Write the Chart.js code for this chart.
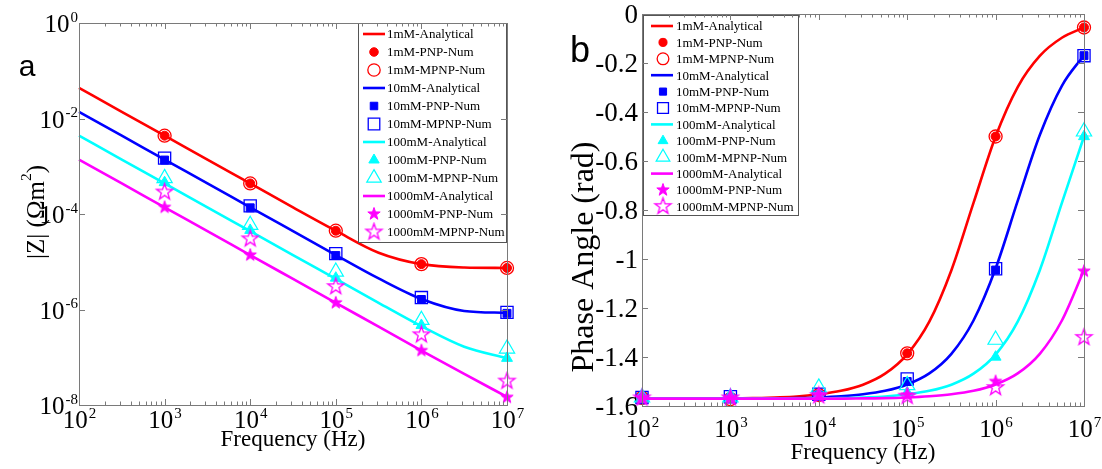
<!DOCTYPE html>
<html>
<head>
<meta charset="utf-8">
<script src="https://cdn.jsdelivr.net/npm/chart.js@4.4.1/dist/chart.umd.min.js"></script>
<style>
  html, body { margin: 0; padding: 0; background: #fff; }
  #wrap { position: relative; width: 1102px; height: 469px; overflow: hidden; }
  .panel { position: absolute; top: 0; }
  #panelA { left: 0; }
  #panelB { left: 550px; }
</style>
</head>
<body>
<div id="wrap">
  <div class="panel" id="panelA"><canvas id="chartA" width="550" height="469"></canvas></div>
  <div class="panel" id="panelB"><canvas id="chartB" width="552" height="469"></canvas></div>
</div>
<script>
// ---- data ----
// panel a: |Z| given as log10 values
const freqLineA = [1e2, 316.2, 1e3, 3162, 1e4, 31623, 1e5, 316228, 1e6, 3162278, 1e7];
const redLineA = [-1.36, -1.86, -2.36, -2.86, -3.36, -3.86, -4.35, -4.81, -5.05, -5.12, -5.13];
const blueLineA = [-1.86, -2.36, -2.86, -3.36, -3.86, -4.36, -4.86, -5.35, -5.78, -6.03, -6.07];
const cyanLineA = [-2.36, -2.86, -3.36, -3.86, -4.36, -4.86, -5.36, -5.86, -6.35, -6.78, -7.02];
const magentaLineA = [-2.86, -3.36, -3.86, -4.36, -4.86, -5.36, -5.86, -6.36, -6.86, -7.35, -7.83];

const freqMarkA = [1e3, 1e4, 1e5, 1e6, 1e7];
const redPnpA = [-2.36, -3.36, -4.35, -5.05, -5.13];
const redMpnpA = [-2.36, -3.36, -4.35, -5.05, -5.13];
const bluePnpA = [-2.87, -3.87, -4.87, -5.79, -6.08];
const blueMpnpA = [-2.83, -3.83, -4.83, -5.75, -6.06];
const cyanPnpA = [-3.34, -4.34, -5.34, -6.33, -7.02];
const cyanMpnpA = [-3.25, -4.23, -5.21, -6.22, -6.82];
const magentaPnpA = [-3.86, -4.86, -5.86, -6.86, -7.84];
const magentaMpnpA = [-3.54, -4.52, -5.52, -6.53, -7.50];

// panel b: phase angle (rad)
const freqLineB = [1e2, 177.8, 316.2, 562.3, 1e3, 1778, 3162, 5623, 1e4, 17783, 31623, 56234,
  1e5, 177828, 316228, 562341, 1e6, 1778279, 3162278, 5623413, 1e7];
const redLineB = [-1.570, -1.570, -1.570, -1.570, -1.569, -1.568, -1.565, -1.561, -1.552, -1.538,
  -1.513, -1.468, -1.389, -1.256, -1.046, -0.771, -0.500, -0.298, -0.171, -0.097, -0.055];
const blueLineB = [-1.570, -1.570, -1.570, -1.570, -1.570, -1.570, -1.569, -1.568, -1.565, -1.560,
  -1.552, -1.538, -1.512, -1.467, -1.387, -1.251, -1.039, -0.763, -0.494, -0.293, -0.168];
const cyanLineB = [-1.570, -1.570, -1.570, -1.570, -1.570, -1.570, -1.570, -1.570, -1.569, -1.568,
  -1.565, -1.561, -1.552, -1.538, -1.513, -1.468, -1.390, -1.256, -1.046, -0.771, -0.500];
const magentaLineB = [-1.570, -1.570, -1.570, -1.570, -1.570, -1.570, -1.570, -1.570, -1.570, -1.570,
  -1.569, -1.568, -1.565, -1.560, -1.552, -1.538, -1.512, -1.467, -1.387, -1.251, -1.045];

const freqMarkB = [1e2, 1e3, 1e4, 1e5, 1e6, 1e7];
const redPnpB = [-1.567, -1.567, -1.555, -1.385, -0.500, -0.055];
const redMpnpB = [-1.567, -1.572, -1.555, -1.385, -0.500, -0.055];
const bluePnpB = [-1.567, -1.567, -1.555, -1.500, -1.045, -0.170];
const blueMpnpB = [-1.565, -1.562, -1.552, -1.490, -1.040, -0.170];
const cyanPnpB = [-1.567, -1.567, -1.555, -1.545, -1.400, -0.500];
const cyanMpnpB = [-1.565, -1.565, -1.525, -1.515, -1.330, -0.480];
const magentaPnpB = [-1.567, -1.567, -1.555, -1.555, -1.500, -1.050];
const magentaMpnpB = [-1.567, -1.567, -1.558, -1.560, -1.525, -1.320];

const legendLabels = [
  "1mM-Analytical", "1mM-PNP-Num", "1mM-MPNP-Num",
  "10mM-Analytical", "10mM-PNP-Num", "10mM-MPNP-Num",
  "100mM-Analytical", "100mM-PNP-Num", "100mM-MPNP-Num",
  "1000mM-Analytical", "1000mM-PNP-Num", "1000mM-MPNP-Num"
];

// tick labels
const xTickExp = [2, 3, 4, 5, 6, 7];
const yTickExpA = [0, -2, -4, -6, -8];
const yTickValsB = [0, -0.2, -0.4, -0.6, -0.8, -1, -1.2, -1.4, -1.6];
const yTickLabelsB = ["0", "-0.2", "-0.4", "-0.6", "-0.8", "-1", "-1.2", "-1.4", "-1.6"];

// ---- styles ----
const RED = "#ff0000", BLUE = "#0000ff", CYAN = "#00ffff", MAGENTA = "#ff00ff";
const AXIS = "#7a7a7a";
const SERIF = "'Liberation Serif', 'Times New Roman', serif";
const SANS = "'Liberation Sans', Arial, sans-serif";

function starImage(color, r, filled, lw) {
  const c = document.createElement("canvas");
  const s = Math.ceil(2 * r + lw + 2);
  c.width = s; c.height = s;
  const g = c.getContext("2d");
  g.beginPath();
  for (let k = 0; k < 10; k++) {
    const rr = k % 2 === 0 ? r : r * 0.4;
    const ang = -Math.PI / 2 + k * Math.PI / 5;
    g.lineTo(s / 2 + rr * Math.cos(ang), s / 2 + rr * Math.sin(ang));
  }
  g.closePath();
  if (filled) { g.fillStyle = color; g.fill(); }
  g.strokeStyle = color; g.lineWidth = lw; g.lineJoin = "miter"; g.stroke();
  return c;
}

const toZ = (e) => Math.pow(10, e);

function pts(xs, ys, conv) {
  return xs.map((x, i) => ({ x: x, y: conv ? conv(ys[i]) : ys[i] }));
}

function lineDs(label, color, xs, ys, conv) {
  return {
    label: label, data: pts(xs, ys, conv), showLine: true,
    borderColor: color, borderWidth: 2.6, pointRadius: 0,
    cubicInterpolationMode: "monotone", clip: false
  };
}

function markDs(label, xs, ys, conv, style, radius, fill, stroke, bw) {
  return {
    label: label, data: pts(xs, ys, conv), showLine: false,
    pointStyle: style, pointRadius: radius, pointHoverRadius: radius,
    pointBackgroundColor: fill, pointBorderColor: stroke, pointBorderWidth: bw,
    clip: false
  };
}

const NONE = "rgba(0,0,0,0)";
const starFilled = starImage(MAGENTA, 6.5, true, 1);
const starHollow = starImage(MAGENTA, 8.5, false, 1.3);

function buildSets(fl, lines, fm, marks, conv) {
  const sets = [
    lineDs(legendLabels[0], RED, fl, lines[0], conv),
    markDs(legendLabels[1], fm, marks[0], conv, "circle", 4.5, RED, RED, 1),
    markDs(legendLabels[2], fm, marks[1], conv, "circle", 6.5, NONE, RED, 1.3),
    lineDs(legendLabels[3], BLUE, fl, lines[1], conv),
    markDs(legendLabels[4], fm, marks[2], conv, "rect", 5.6, BLUE, BLUE, 1),
    markDs(legendLabels[5], fm, marks[3], conv, "rect", 8.6, NONE, BLUE, 1.3),
    lineDs(legendLabels[6], CYAN, fl, lines[2], conv),
    markDs(legendLabels[7], fm, marks[4], conv, "triangle", 6.3, CYAN, CYAN, 1),
    markDs(legendLabels[8], fm, marks[5], conv, "triangle", 8.8, NONE, CYAN, 1.2),
    lineDs(legendLabels[9], MAGENTA, fl, lines[3], conv),
    markDs(legendLabels[10], fm, marks[6], conv, starFilled, 6.5, MAGENTA, MAGENTA, 1),
    markDs(legendLabels[11], fm, marks[7], conv, starHollow, 8.5, NONE, MAGENTA, 1.3)
  ];
  // later entries drawn on top, as in the original
  sets.forEach((s, i) => { s.order = -i; });
  return sets;
}

// ---- drawing helpers ----
function drawPow(ctx, x, y, exp, size, supSize, align) {
  const base = "10", sup = String(exp);
  ctx.font = size + "px " + SERIF;
  const wb = ctx.measureText(base).width;
  ctx.font = supSize + "px " + SERIF;
  const ws = ctx.measureText(sup).width;
  let x0 = align === "right" ? x - wb - ws : x - (wb + ws) / 2;
  ctx.textAlign = "left";
  ctx.textBaseline = "alphabetic";
  ctx.fillStyle = "#000";
  ctx.font = size + "px " + SERIF;
  ctx.fillText(base, x0, y);
  ctx.font = supSize + "px " + SERIF;
  ctx.fillText(sup, x0 + wb + 1, y - size * 0.42);
}

function drawLegend(chart, L) {
  const ctx = chart.ctx;
  ctx.save();
  ctx.fillStyle = "#fff";
  ctx.fillRect(L.x0, L.y0, L.x1 - L.x0, L.y1 - L.y0);
  ctx.strokeStyle = "#555";
  ctx.lineWidth = 1;
  ctx.strokeRect(L.x0 + 0.5, L.y0 + 0.5, L.x1 - L.x0, L.y1 - L.y0);
  chart.data.datasets.forEach((ds, i) => {
    const y = L.row0 + i * L.step;
    if (ds.showLine) {
      ctx.strokeStyle = ds.borderColor;
      ctx.lineWidth = ds.borderWidth;
      ctx.beginPath();
      ctx.moveTo(L.lx0, y); ctx.lineTo(L.lx1, y);
      ctx.stroke();
    } else {
      ctx.fillStyle = ds.pointBackgroundColor;
      ctx.strokeStyle = ds.pointBorderColor;
      ctx.lineWidth = ds.pointBorderWidth;
      Chart.helpers.drawPoint(ctx, {
        pointStyle: ds.pointStyle, radius: ds.pointRadius * L.scale,
        rotation: 0, borderWidth: ds.pointBorderWidth
      }, L.mx, y);
    }
    ctx.fillStyle = "#000";
    ctx.font = L.font + "px " + SERIF;
    ctx.textAlign = "left";
    ctx.textBaseline = "middle";
    ctx.fillText(ds.label, L.tx, y + 1);
  });
  ctx.restore();
}

function minorTicks() {
  const out = [];
  for (let d = 2; d < 7; d++) for (let k = 2; k <= 9; k++) out.push(k * Math.pow(10, d));
  return out;
}

const decor = {
  id: "decor",
  afterDatasetsDraw(chart, args, o) {
    const ctx = chart.ctx, a = chart.chartArea;
    const xs = chart.scales.x, ys = chart.scales.y;
    ctx.save();
    drawLegend(chart, o.legend);

    // frame
    ctx.strokeStyle = AXIS;
    ctx.lineWidth = 1;
    ctx.strokeRect(Math.round(a.left) + 0.5, Math.round(a.top) + 0.5,
      Math.round(a.right - a.left), Math.round(a.bottom - a.top));

    // x ticks, bottom and top
    ctx.beginPath();
    xTickExp.forEach((e) => {
      const px = Math.round(xs.getPixelForValue(Math.pow(10, e))) + 0.5;
      ctx.moveTo(px, a.bottom); ctx.lineTo(px, a.bottom - 6);
      ctx.moveTo(px, a.top); ctx.lineTo(px, a.top + 6);
    });
    minorTicks().forEach((v) => {
      const px = Math.round(xs.getPixelForValue(v)) + 0.5;
      ctx.moveTo(px, a.bottom); ctx.lineTo(px, a.bottom - 3.5);
      ctx.moveTo(px, a.top); ctx.lineTo(px, a.top + 3.5);
    });
    // y ticks, left and right
    o.yTicks.forEach((v) => {
      const py = Math.round(ys.getPixelForValue(v)) + 0.5;
      ctx.moveTo(a.left, py); ctx.lineTo(a.left + 6, py);
      ctx.moveTo(a.right, py); ctx.lineTo(a.right - 6, py);
    });
    ctx.stroke();

    // x tick labels
    xTickExp.forEach((e) => {
      const px = xs.getPixelForValue(Math.pow(10, e));
      drawPow(ctx, px, a.bottom + o.xLabelDy, e, o.tickSize, o.supSize, "center");
    });
    // y tick labels
    o.yTicks.forEach((v, i) => {
      const py = ys.getPixelForValue(v);
      if (o.yLog) {
        drawPow(ctx, a.left - 2, py + 9, yTickExpA[i], o.tickSize, o.supSize, "right");
      } else {
        ctx.fillStyle = "#000";
        ctx.font = o.yTickSize + "px " + SERIF;
        ctx.textAlign = "right";
        ctx.textBaseline = "middle";
        ctx.fillText(yTickLabelsB[i], a.left - 4, py + 2);
      }
    });

    // x title
    ctx.fillStyle = "#000";
    ctx.font = o.xTitleSize + "px " + SERIF;
    ctx.textAlign = "center";
    ctx.textBaseline = "middle";
    ctx.fillText("Frequency (Hz)", (a.left + a.right) / 2 + o.xTitleDx, o.xTitleY);

    // y title (rotated)
    ctx.save();
    ctx.translate(o.yTitleX, o.yTitleY);
    ctx.rotate(-Math.PI / 2);
    ctx.textBaseline = "middle";
    ctx.textAlign = "left";
    const parts = o.yTitle;
    let total = 0;
    parts.forEach((p) => {
      ctx.font = (p.sup ? o.yTitleSize * 0.62 : o.yTitleSize) + "px " + SERIF;
      p.w = ctx.measureText(p.t).width; total += p.w;
    });
    let cx = -total / 2;
    parts.forEach((p) => {
      ctx.font = (p.sup ? o.yTitleSize * 0.62 : o.yTitleSize) + "px " + SERIF;
      ctx.fillText(p.t, cx, p.sup ? -o.yTitleSize * 0.4 : 0);
      cx += p.w;
    });
    ctx.restore();

    // panel letter
    ctx.font = o.letterSize + "px " + SANS;
    ctx.textAlign = "center";
    ctx.textBaseline = "alphabetic";
    ctx.fillText(o.letter, o.letterX, o.letterY);
    ctx.restore();
  }
};

function baseOptions(xFit, yFit, pad, yScale, decorOpts) {
  return {
    responsive: false,
    animation: false,
    devicePixelRatio: 1,
    layout: { padding: pad, autoPadding: false },
    events: [],
    scales: {
      x: {
        type: "logarithmic", min: 1e2, max: 1e7,
        grid: { display: false }, border: { display: false }, ticks: { display: false },
        afterFit: (s) => { s.height = xFit; }
      },
      y: Object.assign({
        grid: { display: false }, border: { display: false }, ticks: { display: false },
        afterFit: (s) => { s.width = yFit; }
      }, yScale)
    },
    plugins: { legend: { display: false }, tooltip: { enabled: false }, decor: decorOpts }
  };
}

new Chart(document.getElementById("chartA"), {
  type: "scatter",
  data: {
    datasets: buildSets(freqLineA, [redLineA, blueLineA, cyanLineA, magentaLineA], freqMarkA,
      [redPnpA, redMpnpA, bluePnpA, blueMpnpA, cyanPnpA, cyanMpnpA, magentaPnpA, magentaMpnpA], toZ)
  },
  options: baseOptions(64, 79, { left: 0, top: 23, right: 43, bottom: 0 },
    { type: "logarithmic", min: 1e-8, max: 1 },
    {
      yLog: true, yTicks: yTickExpA.map(toZ),
      tickSize: 25, supSize: 15, xLabelDy: 23,
      xTitleSize: 23, xTitleY: 440, xTitleDx: 0,
      yTitle: [{ t: "|Z| (\u03A9m" }, { t: "2", sup: true }, { t: ")" }],
      yTitleSize: 25, yTitleX: 37, yTitleY: 212,
      letter: "a", letterSize: 30, letterX: 27, letterY: 76,
      legend: { x0: 358, y0: 23, x1: 506, y1: 242, row0: 34, step: 18,
        lx0: 363, lx1: 385, mx: 374, tx: 387, font: 13, scale: 0.95 }
    }),
  plugins: [decor]
});

new Chart(document.getElementById("chartB"), {
  type: "scatter",
  data: {
    datasets: buildSets(freqLineB, [redLineB, blueLineB, cyanLineB, magentaLineB], freqMarkB,
      [redPnpB, redMpnpB, bluePnpB, blueMpnpB, cyanPnpB, cyanMpnpB, magentaPnpB, magentaMpnpB], null)
  },
  options: baseOptions(63, 92, { left: 0, top: 14, right: 18, bottom: 0 },
    { type: "linear", min: -1.6, max: 0 },
    {
      yLog: false, yTicks: yTickValsB,
      tickSize: 25, supSize: 15, yTickSize: 27, xLabelDy: 31,
      xTitleSize: 23, xTitleY: 453, xTitleDx: 0,
      yTitle: [{ t: "Phase Angle (rad)" }],
      yTitleSize: 32, yTitleX: 35, yTitleY: 257,
      letter: "b", letterSize: 36, letterX: 30, letterY: 62,
      legend: { x0: 93, y0: 15, x1: 248, y1: 215, row0: 26, step: 16.4,
        lx0: 101, lx1: 123, mx: 113, tx: 126, font: 13, scale: 0.9 }
    }),
  plugins: [decor]
});
</script>
</body>
</html>
